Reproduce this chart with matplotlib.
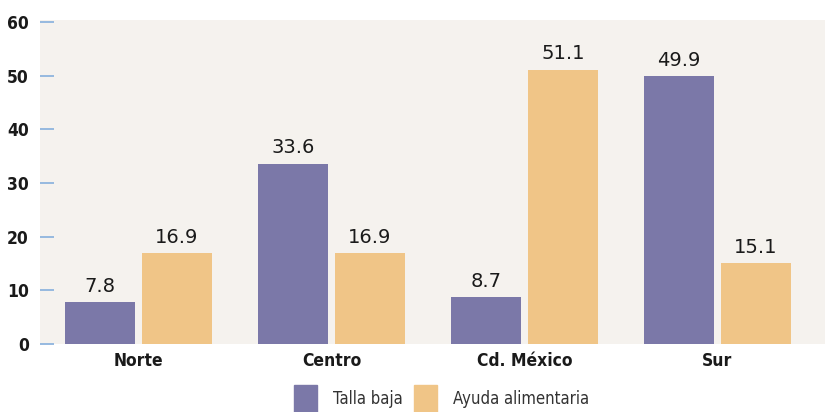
import numpy as np
import matplotlib.pyplot as plt
from matplotlib.patches import Rectangle
from matplotlib import font_manager

# Datos
regiones = ['Norte', 'Centro', 'Cd. México', 'Sur']
talla_baja = [7.8, 33.6, 8.7, 49.9]
ayuda_alimentaria = [16.9, 16.9, 51.1, 15.1]
y_ticks = [0, 10, 20, 30, 40, 50, 60]

color_talla = '#7b78a8'
color_ayuda = '#f0c587'
fondo = '#f5f2ee'

# buscar una fuente estrecha instalada
nombres = {f.name: f for f in font_manager.fontManager.ttflist}
condensadas = [f for f in font_manager.fontManager.ttflist
               if f.stretch in ('condensed', 'semi-condensed', 'extra-condensed')
               or 'Narrow' in f.name or 'Condensed' in f.name]
print(sorted(set((f.name, f.stretch) for f in condensadas)))
if 'Liberation Sans Narrow' in nombres:
    narrow = dict(family=['Liberation Sans Narrow', 'DejaVu Sans'])
else:
    narrow = dict(family=['DejaVu Sans'], fontstretch='condensed')

fig = plt.figure(figsize=(8.25, 4.12), dpi=100)
# ejes: x 40..825 px, y 20..344 px
ax = fig.add_axes([40/825, (412-344)/412, 785/825, 324/412])
ax.set_facecolor(fondo)

x = np.arange(len(regiones))
ancho = 0.3627
desp = 0.1995

b1 = ax.bar(x - desp, talla_baja, ancho, color=color_talla)
b2 = ax.bar(x + desp, ayuda_alimentaria, ancho, color=color_ayuda)

for barras, vals in [(b1, talla_baja), (b2, ayuda_alimentaria)]:
    for b, v in zip(barras, vals):
        ax.annotate(f'{v:.1f}', (b.get_x() + b.get_width()/2, v),
                    xytext=(0, 7.5), textcoords='offset points',
                    ha='center', va='baseline', fontsize=14,
                    color='#1a1a1a', family=['DejaVu Sans'],
                    fontstretch='semi-condensed')

ax.set_xlim(-0.510, 3.557)
ax.set_ylim(0, 60.37)
ax.set_yticks(y_ticks)
ax.set_yticklabels([str(t) for t in y_ticks], fontweight='bold',
                   fontsize=12.5, color='#1a1a1a', **narrow)
ax.tick_params(axis='y', direction='in', length=10, width=1.3,
               color='#8fb4de', pad=8)
ax.set_xticks(x)
ax.set_xticklabels(regiones, fontweight='bold', fontsize=12.5,
                   color='#1a1a1a', **narrow)
ax.tick_params(axis='x', length=0, pad=6)
for s in ax.spines.values():
    s.set_visible(False)

# Leyenda
def px(xp, yp):
    return xp/825, (412-yp)/412

for x0, col, texto in [(294, color_talla, 'Talla baja'),
                       (414, color_ayuda, 'Ayuda alimentaria')]:
    fx, fy = px(x0, 412)
    fig.patches.append(Rectangle((fx, fy), 23/825, 27/412,
                                 transform=fig.transFigure, color=col))
    tx, ty = px(x0 + 39, 399)
    fig.text(tx, ty, texto, fontsize=12, color='#333333',
             va='center', ha='left', **narrow)

fig.savefig('out.png', dpi=100)
